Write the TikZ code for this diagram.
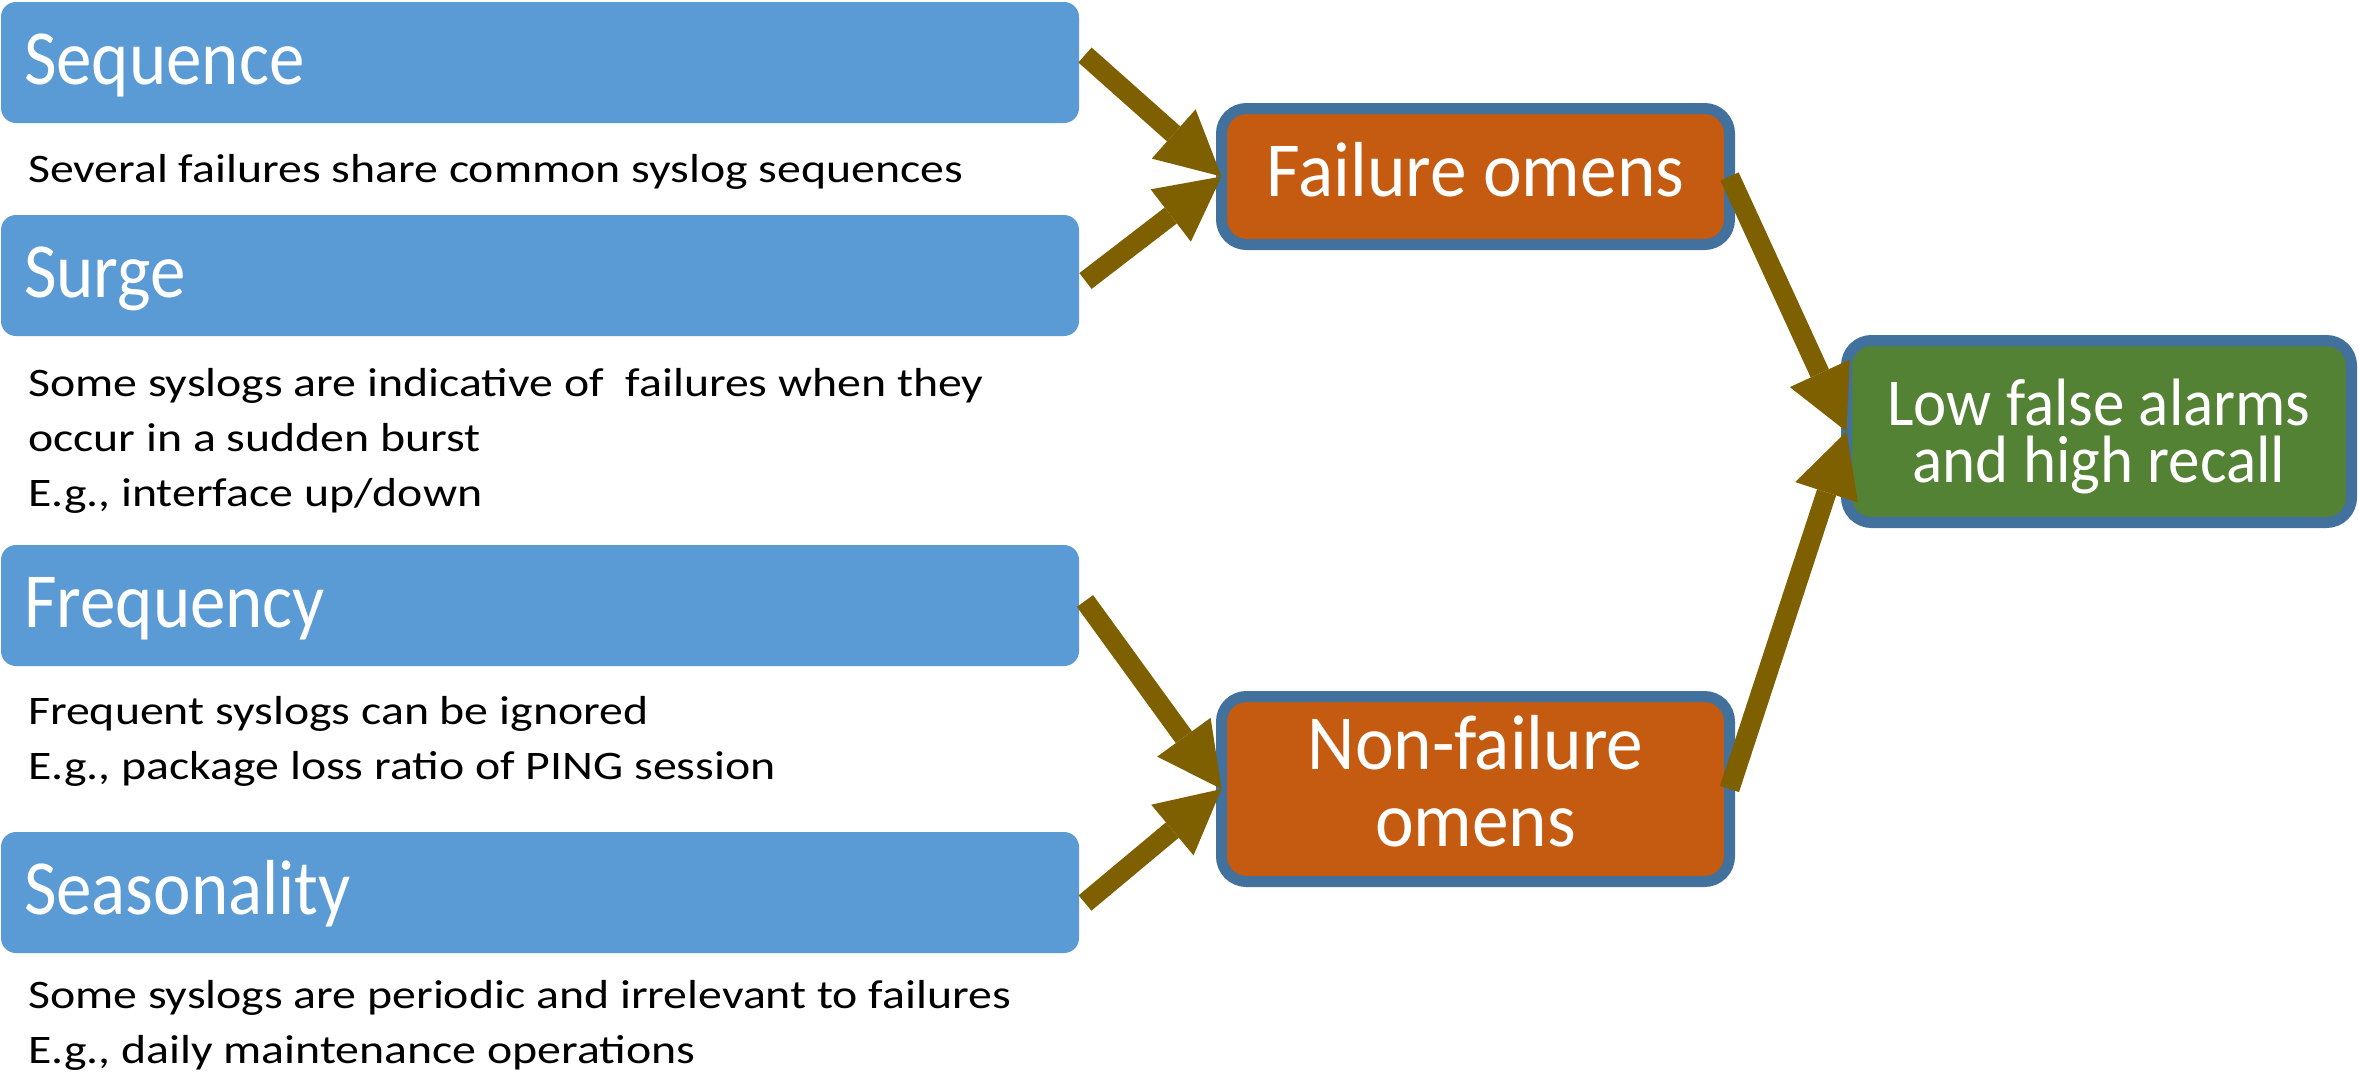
\documentclass[tikz,border=0pt]{standalone}
\usepackage{fontspec}
\setmainfont{Carlito}
\newfontfamily\headfont[FakeStretch=0.91]{Carlito}
\newfontfamily\boxfont[FakeStretch=0.94]{Carlito}
\newfontfamily\descfont[FakeStretch=1.18]{Carlito}
\usetikzlibrary{arrows.meta,calc}
\definecolor{boxblue}{HTML}{5B9BD5}
\definecolor{omenorange}{HTML}{C55A11}
\definecolor{goalgreen}{HTML}{548235}
\definecolor{rimblue}{HTML}{41719C}
\definecolor{flowbrown}{HTML}{7F6000}
\begin{document}
\begin{tikzpicture}[x=1pt,y=-1pt,
  signal/.style={fill=boxblue, rounded corners=15pt, inner xsep=23pt, inner ysep=0pt,
    minimum height=121pt, text=white, anchor=north west, outer sep=0pt,
    font=\headfont\fontsize{78}{78}\selectfont, text height=50pt, text depth=7pt},
  omen/.style={fill=omenorange, draw=rimblue, line width=11pt, rounded corners=25pt,
    minimum width=508pt, inner sep=0pt, outer sep=0pt, text=white,
    font=\boxfont\fontsize{78}{78}\selectfont},
  goal/.style={fill=goalgreen, draw=rimblue, line width=11pt, rounded corners=25pt,
    minimum width=505pt, minimum height=182pt, inner sep=0pt, outer sep=0pt, text=white,
    font=\boxfont\fontsize{67}{67}\selectfont, text height=106pt, text depth=5pt},
  note/.style={anchor=base west, inner sep=0pt, text=black,
    font=\descfont\fontsize{40.5}{55}\selectfont},
  flow/.style={draw=flowbrown, line width=20pt,
    -{Triangle[width=66pt,length=64pt,line width=0pt]}}
]
\useasboundingbox (0,0) rectangle (2359,1072);
\fill[white] (0,0) rectangle (2359,1072);

% signal categories
\node[signal] (seq)   at (1,2)   {\makebox[1032pt][l]{Sequence}};
\node[signal] (surge) at (1,215) {\makebox[1032pt][l]{Surge}};
\node[signal] (freq)  at (1,545) {\makebox[1032pt][l]{Frequency}};
\node[signal] (seas)  at (1,832) {\makebox[1032pt][l]{Seasonality}};

% explanations under each category
\node[note] (seqnote) at (28,182) {Several failures share common syslog sequences};
\node[note] (surgenote) at (28,396) {\vtop{\hbox{Some syslogs are indicative of\ \ failures when they}
  \hbox{occur in a sudden burst}\hbox{E.g., interface up/down}}};
\node[note] (freqnote) at (28,724) {\vtop{\hbox{Frequent syslogs can be ignored}
  \hbox{E.g., package loss ratio of PING session}}};
\node[note] (seasnote) at (28,1008) {\vtop{\hbox{Some syslogs are periodic and irrelevant to failures}
  \hbox{E.g., daily maintenance operations}}};

% omen classes and outcome
\node[omen, minimum height=136pt, text height=50pt, text depth=11pt] (fo) at (1475.5,176.5) {Failure omens};
\node[omen, minimum height=185pt, text height=120pt, text depth=6pt] (nf) at (1475.5,789)
  {\vbox{\baselineskip=77pt \hbox to 460pt{\hss Non-failure\hss}\hbox to 460pt{\hss omens\hss}}};
\node[goal] (goal) at (2099,431.5)
  {\vbox{\baselineskip=57pt \hbox to 470pt{\hss Low false alarms\hss}\hbox to 470pt{\hss and high recall\hss}}};

% flows
\draw[flow] ($(seq.east)+(6,-7.5)$) -- (fo.west);
\draw[flow] ($(surge.east)+(6.5,5.5)$) -- (fo.west);
\draw[flow] ($(freq.east)+(6,-4.5)$) -- (nf.west);
\draw[flow] ($(seas.east)+(6,10.5)$) -- (nf.west);
\draw[flow] (fo.east) -- (goal.west);
\draw[flow] (nf.east) -- (goal.west);
\end{tikzpicture}
\end{document}
